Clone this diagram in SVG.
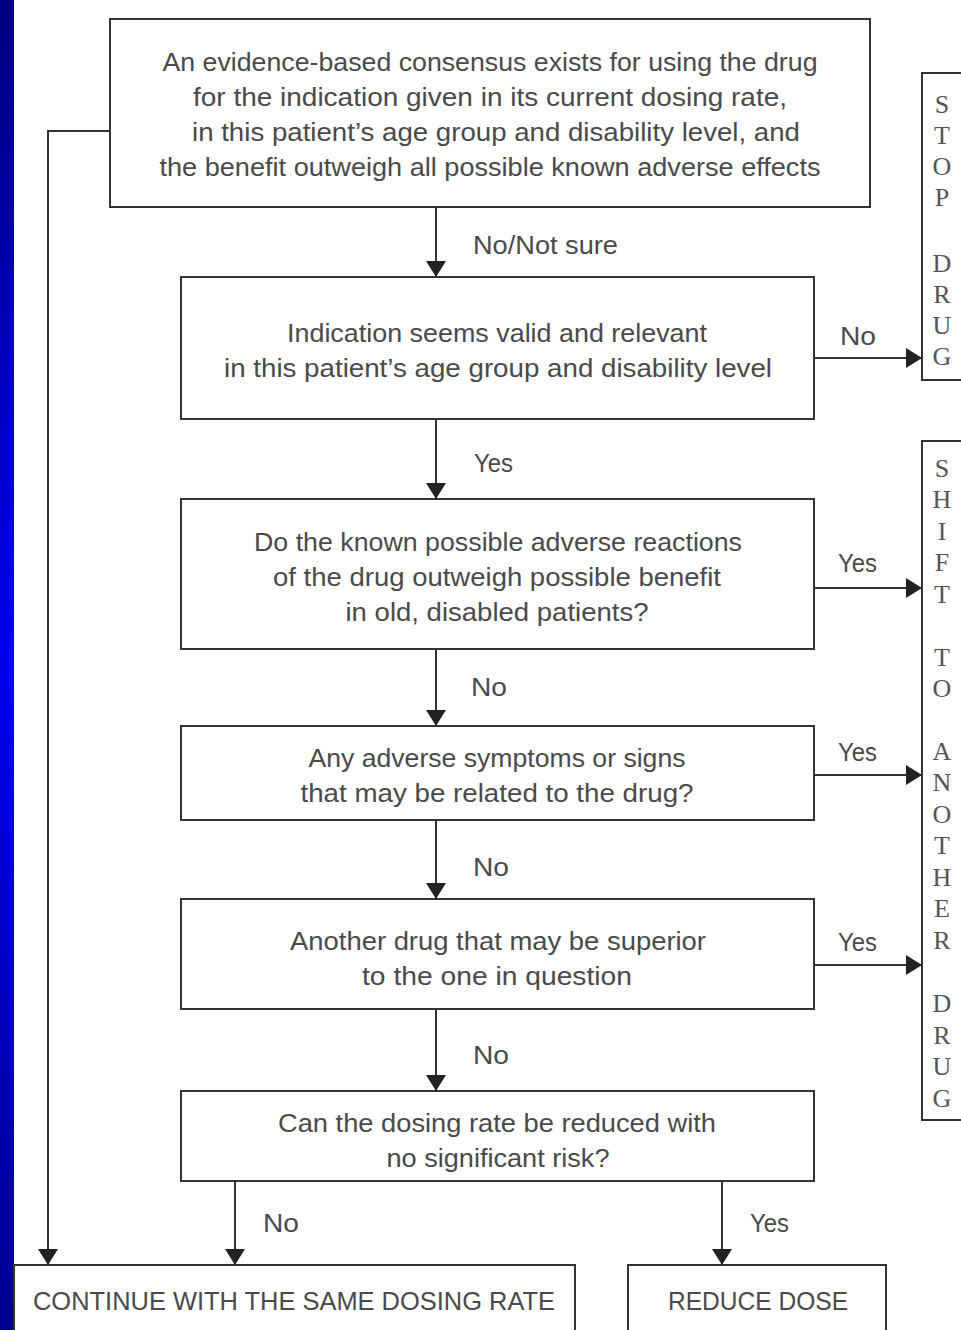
<svg xmlns="http://www.w3.org/2000/svg" width="961" height="1330" viewBox="0 0 961 1330">
<defs>
<linearGradient id="bar" x1="0" y1="0" x2="0" y2="1">
<stop offset="0" stop-color="#000080"/>
<stop offset="0.5" stop-color="#0000ee"/>
<stop offset="1" stop-color="#000090"/>
</linearGradient>
<marker id="ah" viewBox="0 0 16 20" refX="16" refY="10" markerWidth="16" markerHeight="20" markerUnits="userSpaceOnUse" orient="auto">
<path d="M0,0 L16,10 L0,20 Z" fill="#222"/>
</marker>
</defs>
<style>
.box{fill:#fff;stroke:#333;stroke-width:2}
.t{font-family:"Liberation Sans",Arial,sans-serif;font-size:26px;fill:#4a4a4a;text-anchor:middle}
.l{font-family:"Liberation Sans",Arial,sans-serif;font-size:26px;fill:#4a4a4a}
.v{font-family:"Liberation Serif","Times New Roman",serif;font-size:26px;fill:#555;text-anchor:middle}
.c{fill:none;stroke:#333;stroke-width:2}
</style>
<rect x="0" y="0" width="961" height="1330" fill="#fff"/>
<rect x="0" y="0" width="14" height="1330" fill="url(#bar)"/>

<g id="connectors">
<path class="c" d="M110,131 H48 V1265" marker-end="url(#ah)"/>
<path class="c" d="M436,207 V277" marker-end="url(#ah)"/>
<path class="c" d="M814,358 H922" marker-end="url(#ah)"/>
<path class="c" d="M436,419 V499" marker-end="url(#ah)"/>
<path class="c" d="M814,588 H922" marker-end="url(#ah)"/>
<path class="c" d="M436,649 V726" marker-end="url(#ah)"/>
<path class="c" d="M814,775 H922" marker-end="url(#ah)"/>
<path class="c" d="M436,820 V899" marker-end="url(#ah)"/>
<path class="c" d="M814,965 H922" marker-end="url(#ah)"/>
<path class="c" d="M436,1009 V1091" marker-end="url(#ah)"/>
<path class="c" d="M235,1181 V1265" marker-end="url(#ah)"/>
<path class="c" d="M722,1181 V1265" marker-end="url(#ah)"/>
<text class="l" x="473" y="254" textLength="145" lengthAdjust="spacingAndGlyphs">No/Not sure</text>
<text class="l" x="840" y="345" textLength="36" lengthAdjust="spacingAndGlyphs">No</text>
<text class="l" x="474" y="472" textLength="39" lengthAdjust="spacingAndGlyphs">Yes</text>
<text class="l" x="838" y="572" textLength="39" lengthAdjust="spacingAndGlyphs">Yes</text>
<text class="l" x="471" y="696" textLength="36" lengthAdjust="spacingAndGlyphs">No</text>
<text class="l" x="838" y="761" textLength="39" lengthAdjust="spacingAndGlyphs">Yes</text>
<text class="l" x="473" y="876" textLength="36" lengthAdjust="spacingAndGlyphs">No</text>
<text class="l" x="838" y="951" textLength="39" lengthAdjust="spacingAndGlyphs">Yes</text>
<text class="l" x="473" y="1064" textLength="36" lengthAdjust="spacingAndGlyphs">No</text>
<text class="l" x="263" y="1232" textLength="36" lengthAdjust="spacingAndGlyphs">No</text>
<text class="l" x="750" y="1232" textLength="39" lengthAdjust="spacingAndGlyphs">Yes</text>
</g>

<g id="n1">
<rect class="box" x="110" y="19" width="760" height="188"/>
<text class="t" x="490" y="71" textLength="655" lengthAdjust="spacingAndGlyphs">An evidence-based consensus exists for using the drug</text>
<text class="t" x="490" y="106" textLength="594" lengthAdjust="spacingAndGlyphs">for the indication given in its current dosing rate,</text>
<text class="t" x="496" y="141" textLength="608" lengthAdjust="spacingAndGlyphs">in this patient’s age group and disability level, and</text>
<text class="t" x="490" y="176" textLength="661" lengthAdjust="spacingAndGlyphs">the benefit outweigh all possible known adverse effects</text>
</g>

<g id="n2">
<rect class="box" x="181" y="277" width="633" height="142"/>
<text class="t" x="497" y="342" textLength="420" lengthAdjust="spacingAndGlyphs">Indication seems valid and relevant</text>
<text class="t" x="498" y="377" textLength="548" lengthAdjust="spacingAndGlyphs">in this patient’s age group and disability level</text>
</g>

<g id="n3">
<rect class="box" x="181" y="499" width="633" height="150"/>
<text class="t" x="498" y="551" textLength="488" lengthAdjust="spacingAndGlyphs">Do the known possible adverse reactions</text>
<text class="t" x="497" y="586" textLength="448" lengthAdjust="spacingAndGlyphs">of the drug outweigh possible benefit</text>
<text class="t" x="497" y="621" textLength="303" lengthAdjust="spacingAndGlyphs">in old, disabled patients?</text>
</g>

<g id="n4">
<rect class="box" x="181" y="726" width="633" height="94"/>
<text class="t" x="497" y="767" textLength="377" lengthAdjust="spacingAndGlyphs">Any adverse symptoms or signs</text>
<text class="t" x="497" y="802" textLength="393" lengthAdjust="spacingAndGlyphs">that may be related to the drug?</text>
</g>

<g id="n5">
<rect class="box" x="181" y="899" width="633" height="110"/>
<text class="t" x="498" y="950" textLength="416" lengthAdjust="spacingAndGlyphs">Another drug that may be superior</text>
<text class="t" x="497" y="985" textLength="270" lengthAdjust="spacingAndGlyphs">to the one in question</text>
</g>

<g id="n6">
<rect class="box" x="181" y="1091" width="633" height="90"/>
<text class="t" x="497" y="1132" textLength="438" lengthAdjust="spacingAndGlyphs">Can the dosing rate be reduced with</text>
<text class="t" x="498" y="1167" textLength="223" lengthAdjust="spacingAndGlyphs">no significant risk?</text>
</g>

<g id="stop">
<rect class="box" x="922" y="73" width="50" height="307"/>
<text class="v" x="942" y="113">S</text>
<text class="v" x="942" y="144">T</text>
<text class="v" x="942" y="175">O</text>
<text class="v" x="942" y="206">P</text>
<text class="v" x="942" y="272">D</text>
<text class="v" x="942" y="303">R</text>
<text class="v" x="942" y="334">U</text>
<text class="v" x="942" y="365">G</text>
</g>

<g id="shift">
<rect class="box" x="922" y="441" width="50" height="679"/>
<text class="v" x="942" y="477">S</text>
<text class="v" x="942" y="508">H</text>
<text class="v" x="942" y="540">I</text>
<text class="v" x="942" y="571">F</text>
<text class="v" x="942" y="603">T</text>
<text class="v" x="942" y="666">T</text>
<text class="v" x="942" y="697">O</text>
<text class="v" x="942" y="760">A</text>
<text class="v" x="942" y="791">N</text>
<text class="v" x="942" y="823">O</text>
<text class="v" x="942" y="854">T</text>
<text class="v" x="942" y="886">H</text>
<text class="v" x="942" y="917">E</text>
<text class="v" x="942" y="949">R</text>
<text class="v" x="942" y="1012">D</text>
<text class="v" x="942" y="1044">R</text>
<text class="v" x="942" y="1075">U</text>
<text class="v" x="942" y="1107">G</text>
</g>

<g id="continue">
<rect class="box" x="14" y="1265" width="561" height="80"/>
<text class="t" x="294" y="1310" textLength="522" lengthAdjust="spacingAndGlyphs">CONTINUE WITH THE SAME DOSING RATE</text>
</g>

<g id="reduce">
<rect class="box" x="628" y="1265" width="258" height="80"/>
<text class="t" x="758" y="1310" textLength="180" lengthAdjust="spacingAndGlyphs">REDUCE DOSE</text>
</g>
</svg>
